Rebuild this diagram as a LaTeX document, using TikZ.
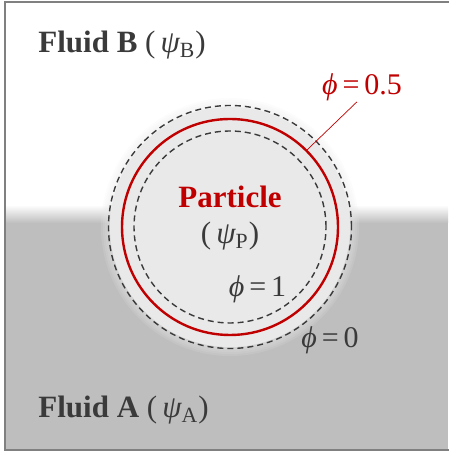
\documentclass[tikz,border=0pt]{standalone}
\usepackage{fontspec}
\setmainfont{Liberation Serif}
\usetikzlibrary{positioning}
\definecolor{ink}{HTML}{3A3A3A}
\definecolor{crimson}{HTML}{C00000}
\definecolor{fluidA}{HTML}{BEBEBE}
\definecolor{grain}{HTML}{E9E9E9}
\definecolor{frame}{HTML}{808080}
\begin{document}
\begin{tikzpicture}[x=0.5pt,y=0.5pt,
 fluid/.style={font=\fontsize{15.5}{18}\selectfont\bfseries,text=ink,anchor=base west,inner sep=0pt},
 phase/.style={font=\fontsize{15}{18}\selectfont,text=ink,anchor=base,inner sep=0pt},
 ring/.style={circle,inner sep=0pt,minimum size=#1},
 level/.style={draw=ink,line width=0.7pt,dash pattern=on 3pt off 2pt},
 leader/.style={draw=crimson,line width=0.35pt}]
\useasboundingbox (0,0) rectangle (448,453);
\coordinate (c) at (230,226);
\fill[fluidA] (5,3) rectangle (448,230);
\shade[top color=white,bottom color=fluidA] (5,230) rectangle (448,248);
\foreach \r in {129,127,...,121} \fill[grain,opacity=0.15] (c) circle (\r);
\fill[grain] (c) circle (120);
\draw[frame,line width=0.8pt] (452,3) -- (5,3) -- (5,451) -- (452,451);
\node[ring=121.5pt,level] (outer) at (c) {};
\node[ring=96pt,level] (inner) at (c) {};
\node[ring=108pt,draw=crimson,line width=1.2pt] (iso) at (c) {};
\node[fluid] (fluidB) at (38,400) {Fluid B {\mdseries(\,{\itshape ψ}\textsubscript{B})}};
\node[fluid] (fluidA) at (38,35) {Fluid A {\mdseries(\,{\itshape ψ}\textsubscript{A})}};
\node[fluid,text=crimson,anchor=base] (particle) at (230,245) {Particle};
\node[phase,font=\fontsize{15.5}{18}\selectfont] (psiP) at (230,209) {(\,{\itshape ψ}\textsubscript{P})};
\node[phase] (one) at (257.5,156) {{\itshape ϕ}\,=\,1};
\node[phase] (zero) at (330,105) {{\itshape ϕ}\,=\,0};
\node[phase,text=crimson] (half) at (362,358) {{\itshape ϕ}\,=\,0.5};
\draw[leader] ([xshift=-2.5pt]half.south) -- (iso.45);
\end{tikzpicture}
\end{document}
